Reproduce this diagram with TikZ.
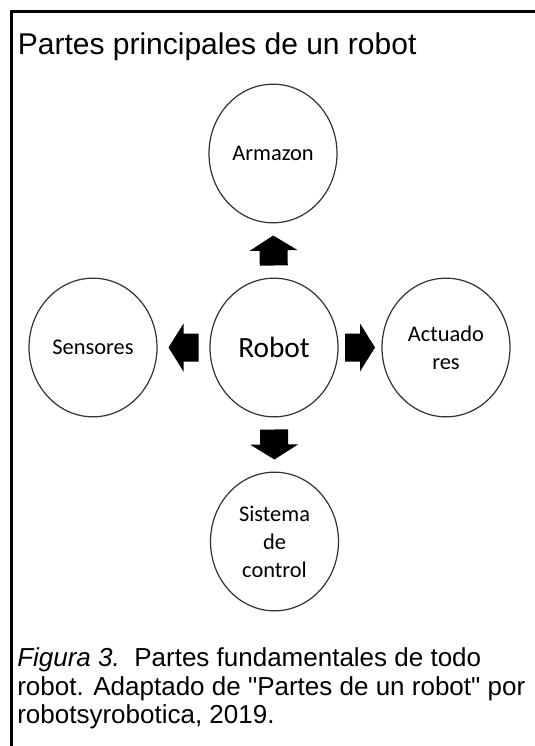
\documentclass[tikz,border=0pt]{standalone}
\usepackage{fontspec}
\setmainfont{Liberation Sans}[Ligatures=TeXOff]
\newfontfamily\labelfont{Carlito}
\usetikzlibrary{shapes.geometric}

\tikzset{
  part/.style={ellipse, draw=black!80, line width=0.9pt, inner sep=0pt,
    minimum width=96pt, minimum height=104pt, align=center,
    font=\labelfont\fontsize{16.8}{21}\selectfont},
  plainline/.style={line width=2pt, black},
  caption/.style={anchor=base west, inner sep=0pt, font=\fontsize{19.5}{24}\selectfont},
  blockarrow/.pic={
    \fill[black] (-15,-14) -- (0,-14) -- (0,-24) -- (15,0) -- (0,24) -- (0,14) -- (-15,14) -- cycle;
  }
}

\begin{document}
\begin{tikzpicture}[x=0.75pt, y=0.75pt]
  \useasboundingbox (0,0) rectangle (535,-746);
  \fill[white] (0,0) rectangle (535,-746);

  % frame: top rule and left rule
  \coordinate (corner) at (11.5,-11.5);
  \coordinate (topend) at (535,-11.5);
  \coordinate (leftend) at (11.5,-746);
  \draw[plainline] (topend) -- (corner) -- (leftend);

  % heading
  \node[anchor=base west, inner sep=0pt, font=\fontsize{22.5}{27}\selectfont]
    (title) at (17.6,-54) {Partes principales de un robot};

  % parts of the robot
  \node[part, font=\labelfont\fontsize{22}{26}\selectfont] (robot) at (274,-347.5) {Robot};
  \node[part] (armazon) at (273,-153.5) {Armazon};
  \node[part] (sensores) at (93,-347.5) {Sensores};
  \node[part] (actuadores) at (446,-347.5) {Actuado\\res};
  \node[part] (control) at (274.5,-541.5) {Sistema\\de\\control};

  % block arrows from the centre outwards
  \path (robot.north) -- (armazon.south) pic[pos=0.5, sloped, allow upside down]{blockarrow};
  \path (robot.west) -- (sensores.east) pic[pos=0.5, sloped, allow upside down]{blockarrow};
  \path (robot.east) -- (actuadores.west) pic[pos=0.5, sloped, allow upside down]{blockarrow};
  \path (robot.south) -- (control.north) pic[pos=0.5, sloped, allow upside down]{blockarrow};

  % caption
  \node[caption] (cap1) at (17,-666) {\textit{Figura 3.}\ \ Partes fundamentales de todo};
  \node[caption] (cap2) at (17,-695) {robot. Adaptado de "Partes de un robot" por};
  \node[caption] (cap3) at (17,-723) {robotsyrobotica, 2019.};
\end{tikzpicture}
\end{document}
